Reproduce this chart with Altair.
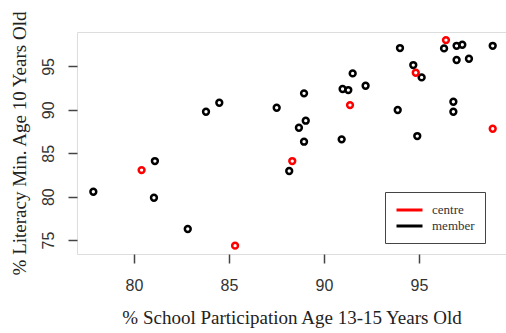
import altair as alt
import pandas as pd

# % School participation age 13-15 (x) and % literacy min. age 10 (y)
member_school = [77.86, 81.10, 81.05, 82.83, 83.79, 84.49, 87.51, 88.95, 89.04, 88.68,
                 88.95, 88.17, 90.93, 90.98, 91.28, 91.51, 92.19, 93.88, 94.00, 94.70,
                 95.14, 94.91, 96.32, 96.98, 97.28, 96.98, 97.63, 96.81, 96.81, 98.88]
member_literacy = [80.56, 84.10, 79.87, 76.27, 89.78, 90.82, 90.24, 91.90, 88.75, 87.94,
                   86.33, 82.95, 86.60, 92.40, 92.28, 94.20, 92.78, 89.98, 97.12, 95.16,
                   93.74, 86.98, 97.08, 97.38, 97.50, 95.74, 95.89, 90.93, 89.78, 97.38]
centre_school = [80.40, 85.32, 88.33, 91.37, 94.83, 96.42, 98.88]
centre_literacy = [83.06, 74.35, 84.10, 90.55, 94.27, 98.04, 87.82]

x_ticks = [80, 85, 90, 95]
y_ticks = [75, 80, 85, 90, 95]

df = pd.DataFrame({
    "school": member_school + centre_school,
    "literacy": member_literacy + centre_literacy,
    "group": ["member"] * len(member_school) + ["centre"] * len(centre_school),
    "order": [0] * len(member_school) + [1] * len(centre_school),
})

axis_common = dict(
    domain=False, grid=False, ticks=True, tickColor="#444", tickWidth=1.5, tickSize=9,
    labelFont="Liberation Sans", labelFontSize=16, labelColor="#333",
    titleFont="Liberation Serif", titleFontSize=19, titleFontWeight="normal", titleColor="#222",
)

chart = alt.Chart(df).mark_point(filled=False, size=34, strokeWidth=2.5, opacity=1).encode(
    x=alt.X("school:Q",
            scale=alt.Scale(domain=[77.0, 99.58], nice=False, zero=False),
            axis=alt.Axis(values=x_ticks, title="% School Participation Age 13-15 Years Old",
                          labelPadding=14, titlePadding=15, **axis_common)),
    y=alt.Y("literacy:Q",
            scale=alt.Scale(domain=[73.39, 98.97], nice=False, zero=False),
            axis=alt.Axis(values=y_ticks, title="% Literacy Min. Age 10 Years Old",
                          labelAngle=-90, labelAlign="center", labelBaseline="bottom",
                          labelPadding=12, titlePadding=11, **axis_common)),
    stroke=alt.Stroke("group:N",
                      scale=alt.Scale(domain=["centre", "member"], range=["#ff0000", "#000000"]),
                      legend=alt.Legend(title=None, orient="none", legendX=308, legendY=160,
                                        symbolType="M-1,0H3", symbolSize=169, symbolStrokeWidth=3,
                                        labelFont="Liberation Serif", labelFontSize=13, labelColor="#333",
                                        labelOffset=21, rowPadding=1, padding=10,
                                        strokeColor="#444", fillColor="white")),
    order=alt.Order("order:Q"),
).properties(
    width=429, height=222,
    padding={"left": 77, "top": 32, "right": 0, "bottom": 79},
    autosize=alt.AutoSizeParams(type="none"),
).configure_view(
    stroke="#444", strokeWidth=1.5
).configure(background="white")

chart.save("out.html", embed_options={"renderer": "svg", "actions": False})
